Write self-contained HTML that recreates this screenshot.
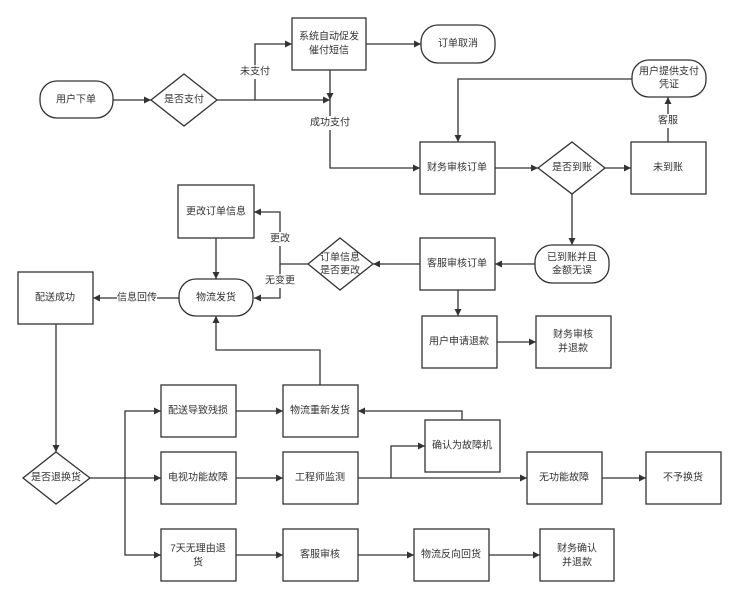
<!DOCTYPE html>
<html><head><meta charset="utf-8"><style>
html,body{margin:0;padding:0;background:#fff;}
svg{display:block;}
text{font-family:"Liberation Sans","Noto Sans CJK SC",sans-serif;font-size:10px;fill:#333;text-anchor:middle;dominant-baseline:central;}
.s{fill:#fff;stroke:#333;stroke-width:1.3;}
.l{fill:none;stroke:#333;stroke-width:1.3;}
.lb{fill:#fff;}
</style></head><body>
<svg width="737" height="600" viewBox="0 0 737 600" xmlns="http://www.w3.org/2000/svg">
<defs><marker id="a" viewBox="0 0 10 10" refX="10" refY="5" markerWidth="7" markerHeight="7" orient="auto-start-reverse" markerUnits="userSpaceOnUse"><path d="M0,0L10,5L0,10z" fill="#333"/></marker></defs>

<g class="l" marker-end="url(#a)">
<path d="M113,100H151"/>
<path d="M217,100H330"/>
<path d="M255,100V44H292"/>
<path d="M330,70V100"/>
<path d="M330,100V168H420"/>
<path d="M366,44H421"/>
<path d="M495,168H538"/>
<path d="M605,168H631"/>
<path d="M668,142V97"/>
<path d="M632,79H458V142"/>
<path d="M572,194V245"/>
<path d="M535,264H495"/>
<path d="M420,264H373"/>
<path d="M308,264H280V212H254"/>
<path d="M280,264V298H254"/>
<path d="M216,238V279"/>
<path d="M179,298H93"/>
<path d="M56,324V452"/>
<path d="M458,290V316"/>
<path d="M497,342H536"/>
<path d="M90,478H125V411H161"/>
<path d="M125,478H161"/>
<path d="M125,478V555H161"/>
<path d="M236,411H283"/>
<path d="M320,385V350H216V316"/>
<path d="M462,420V411H358"/>
<path d="M236,478H283"/>
<path d="M358,478H527"/>
<path d="M391,478V446H425"/>
<path d="M602,478H646"/>
<path d="M236,555H283"/>
<path d="M358,555H414"/>
<path d="M489,555H540"/>
</g>

<rect class="lb" x="240" y="65" width="30" height="14"/><text x="255" y="72">未支付</text>
<rect class="lb" x="310" y="116" width="40" height="14"/><text x="330" y="123">成功支付</text>
<rect class="lb" x="657" y="114" width="22" height="14"/><text x="668" y="121">客服</text>
<rect class="lb" x="269" y="232" width="22" height="14"/><text x="280" y="239">更改</text>
<rect class="lb" x="265" y="274" width="30" height="14"/><text x="280" y="281">无变更</text>
<rect class="lb" x="117" y="291" width="40" height="14"/><text x="137" y="298">信息回传</text>

<rect class="s" x="40" y="81" width="73" height="37" rx="17"/><text x="76" y="100">用户下单</text>
<polygon class="s" points="184,74 217,100 184,126 151,100"/><text x="184" y="100">是否支付</text>
<rect class="s" x="292" y="18" width="74" height="52"/><text x="329" y="37">系统自动促发</text><text x="329" y="51">催付短信</text>
<rect class="s" x="421" y="25" width="74" height="38" rx="17"/><text x="458" y="44">订单取消</text>
<rect class="s" x="420" y="142" width="75" height="52"/><text x="457" y="168">财务审核订单</text>
<polygon class="s" points="572,142 605,168 572,194 538,168"/><text x="572" y="168">是否到账</text>
<rect class="s" x="631" y="142" width="75" height="52"/><text x="668" y="168">未到账</text>
<rect class="s" x="632" y="60" width="74" height="37" rx="17"/><text x="669" y="72">用户提供支付</text><text x="669" y="85">凭证</text>
<rect class="s" x="535" y="245" width="74" height="38" rx="17"/><text x="572" y="258">已到账并且</text><text x="572" y="271">金额无误</text>
<rect class="s" x="420" y="238" width="75" height="52"/><text x="457" y="264">客服审核订单</text>
<polygon class="s" points="340,238 373,264 340,290 308,264"/><text x="340" y="258">订单信息</text><text x="340" y="271">是否更改</text>
<rect class="s" x="178" y="185" width="76" height="53"/><text x="216" y="212">更改订单信息</text>
<rect class="s" x="179" y="279" width="74" height="37" rx="17"/><text x="216" y="298">物流发货</text>
<rect class="s" x="18" y="272" width="75" height="52"/><text x="55" y="298">配送成功</text>
<polygon class="s" points="56,452 90,478 56,504 23,478"/><text x="56" y="478">是否退换货</text>
<rect class="s" x="422" y="316" width="75" height="52"/><text x="459" y="342">用户申请退款</text>
<rect class="s" x="536" y="316" width="75" height="52"/><text x="573" y="335">财务审核</text><text x="573" y="349">并退款</text>
<rect class="s" x="161" y="385" width="75" height="52"/><text x="198" y="411">配送导致残损</text>
<rect class="s" x="283" y="385" width="75" height="52"/><text x="320" y="411">物流重新发货</text>
<rect class="s" x="425" y="420" width="75" height="52"/><text x="462" y="446">确认为故障机</text>
<rect class="s" x="161" y="452" width="75" height="52"/><text x="198" y="478">电视功能故障</text>
<rect class="s" x="283" y="452" width="75" height="52"/><text x="320" y="478">工程师监测</text>
<rect class="s" x="527" y="452" width="75" height="52"/><text x="564" y="478">无功能故障</text>
<rect class="s" x="646" y="452" width="75" height="52"/><text x="683" y="478">不予换货</text>
<rect class="s" x="161" y="529" width="75" height="52"/><text x="198" y="549">7天无理由退</text><text x="198" y="563">货</text>
<rect class="s" x="283" y="529" width="75" height="52"/><text x="320" y="555">客服审核</text>
<rect class="s" x="414" y="529" width="75" height="52"/><text x="451" y="555">物流反向回货</text>
<rect class="s" x="540" y="529" width="74" height="52"/><text x="577" y="549">财务确认</text><text x="577" y="563">并退款</text>
</svg>
</body></html>
